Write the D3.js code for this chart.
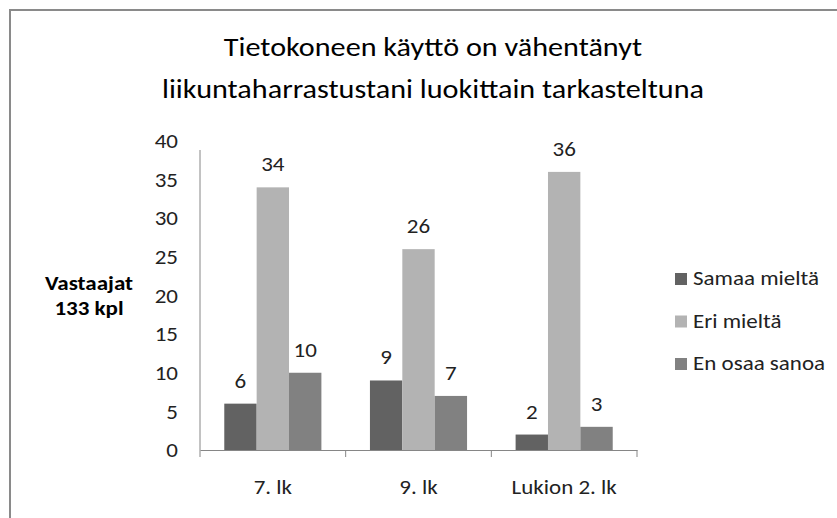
<!DOCTYPE html>
<html>
<head>
<meta charset="utf-8">
<script src="https://cdn.jsdelivr.net/npm/d3@7"></script>
<style>
  html, body { margin: 0; padding: 0; background: #fff; }
  svg { display: block; }
  text { font-family: Carlito, Calibri, Lato, "Open Sans", sans-serif; }
</style>
</head>
<body>
<script>
// ---- data ----
const titleLines = ["Tietokoneen käyttö on vähentänyt", "liikuntaharrastustani luokittain tarkasteltuna"];
const categories = ["7. lk", "9. lk", "Lukion 2. lk"];
const seriesNames = ["Samaa mieltä", "Eri mieltä", "En osaa sanoa"];
const samaaMielta = [6, 9, 2];
const eriMielta = [34, 26, 36];
const enOsaaSanoa = [10, 7, 3];
const yTicks = [0, 5, 10, 15, 20, 25, 30, 35, 40];
const yTitleLines = ["Vastaajat", "133 kpl"];
const colors = ["#626262", "#b3b3b3", "#818181"];

const seriesValues = [samaaMielta, eriMielta, enOsaaSanoa];
const rows = categories.map((c, i) => ({ cat: c, vals: seriesNames.map((s, j) => ({ s, v: seriesValues[j][i] })) }));

const W = 837, H = 518;
const svg = d3.select("body").append("svg").attr("width", W).attr("height", H);

// frame
svg.append("rect").attr("x", 10).attr("y", 10).attr("width", W + 20).attr("height", H + 20)
  .attr("fill", "#fff").attr("stroke", "#8a8a8a").attr("stroke-width", 2);

// sizes: pick a height, then a horizontal condensing factor to match the reference widths
const BODY = 21, TITLE = 27, BOLD = 21;
function widthOf(text, weight, size) {
  const t = svg.append("text").attr("font-size", size).attr("font-weight", weight).text(text);
  const w = t.node().getComputedTextLength();
  t.remove();
  return w;
}
const bodyK = 126 / widthOf("Samaa mieltä", "normal", BODY);
const titleK = 542 / widthOf(titleLines[1], "normal", TITLE);
const boldK = 88 / widthOf("Vastaajat", "bold", BOLD);
function condense(sel, k) {
  sel.each(function () {
    const w = this.getComputedTextLength();
    d3.select(this).attr("textLength", w * k).attr("lengthAdjust", "spacingAndGlyphs");
  });
}

// title
const titleBaselines = [56, 98];
svg.append("g").selectAll("text").data(titleLines).join("text")
  .attr("x", 433).attr("y", (d, i) => titleBaselines[i])
  .attr("text-anchor", "middle").attr("font-size", TITLE).attr("fill", "#000")
  .text(d => d).call(condense, titleK);

// scales
const x0 = d3.scaleBand().domain(categories).range([200, 637]).paddingInner(0).paddingOuter(0);
const x1 = d3.scaleBand().domain(seriesNames).range([0, x0.bandwidth()]).paddingInner(0).paddingOuter(0.75);
const y = d3.scaleLinear().domain([0, 40]).range([450, 141]);
const color = d3.scaleOrdinal().domain(seriesNames).range(colors);

// y axis
const yAxis = svg.append("g").attr("transform", "translate(200,0)")
  .call(d3.axisLeft(y).tickValues(yTicks).tickSize(0).tickPadding(22));
yAxis.select(".domain").remove();
yAxis.selectAll("text").attr("font-size", BODY).attr("fill", "#222").call(condense, bodyK);
svg.append("line").attr("x1", 200).attr("x2", 200).attr("y1", 150).attr("y2", y(0))
  .attr("stroke", "#868686").attr("stroke-width", 1);

// bars
const groups = svg.append("g").selectAll("g").data(rows).join("g")
  .attr("transform", d => `translate(${x0(d.cat)},0)`);
groups.selectAll("rect").data(d => d.vals).join("rect")
  .attr("x", d => x1(d.s)).attr("width", x1.bandwidth())
  .attr("y", d => y(d.v)).attr("height", d => y(0) - y(d.v))
  .attr("fill", d => color(d.s));
groups.selectAll("text").data(d => d.vals).join("text")
  .attr("x", d => x1(d.s) + x1.bandwidth() / 2).attr("y", d => y(d.v) - 16)
  .attr("text-anchor", "middle").attr("font-size", BODY).attr("fill", "#222")
  .text(d => d.v).call(condense, bodyK);

// x axis
const xAxis = svg.append("g").attr("transform", `translate(0,${y(0)})`)
  .call(d3.axisBottom(x0).tickSize(0).tickPadding(29));
xAxis.select(".domain").attr("stroke", "#868686");
xAxis.selectAll("text").attr("font-size", BODY).attr("fill", "#222").call(condense, bodyK);
const boundaries = categories.map(c => x0(c)).concat([x0.range()[1]]);
xAxis.selectAll(".bound").data(boundaries).join("line").attr("class", "bound")
  .attr("x1", d => d).attr("x2", d => d).attr("y1", 0).attr("y2", 7)
  .attr("stroke", "#868686");

// y title
svg.append("g").selectAll("text").data(yTitleLines).join("text")
  .attr("x", 89).attr("y", (d, i) => 290 + i * 25)
  .attr("text-anchor", "middle").attr("font-weight", "bold").attr("font-size", BOLD).attr("fill", "#000")
  .text(d => d).call(condense, boldK);

// legend
const legend = svg.append("g").selectAll("g").data(seriesNames).join("g")
  .attr("transform", (d, i) => `translate(675,${273 + i * 42.5})`);
legend.append("rect").attr("width", 12).attr("height", 12).attr("fill", d => color(d));
legend.append("text").attr("x", 18).attr("y", 12).attr("font-size", BODY).attr("fill", "#222")
  .text(d => d).call(condense, bodyK);
</script>
</body>
</html>
